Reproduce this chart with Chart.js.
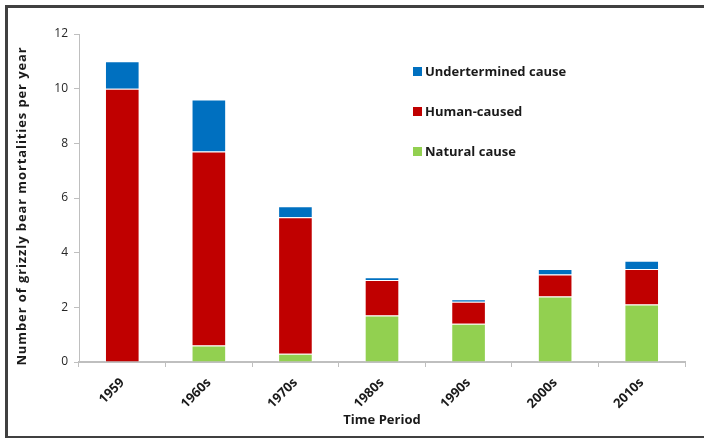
<!DOCTYPE html>
<html>
<head>
<meta charset="utf-8">
<script src="https://cdn.jsdelivr.net/npm/chart.js@4/dist/chart.umd.min.js"></script>
<style>
  body { margin: 0; background: #fff; }
  #wrap { position: relative; width: 704px; height: 438px; overflow: hidden; }
  #frame { position: absolute; left: 5px; top: 5px; width: 720px; height: 428px; border: 3px solid #404040; box-sizing: content-box; pointer-events: none; }
</style>
</head>
<body>
<div id="wrap">
  <canvas id="bearChart" width="704" height="438"></canvas>
  <div id="frame"></div>
</div>
<script>
var periods = ["1959", "1960s", "1970s", "1980s", "1990s", "2000s", "2010s"];
var naturalCause = [0, 0.6, 0.3, 1.7, 1.4, 2.4, 2.1];
var humanCaused = [10, 7.1, 5.0, 1.3, 0.8, 0.8, 1.3];
var undeterminedCause = [1.0, 1.9, 0.4, 0.1, 0.1, 0.2, 0.3];
var yTicks = [0, 2, 4, 6, 8, 10, 12];
var yTitle = "Number of grizzly bear mortalities per year";

var fontFamily = "'Open Sans', 'DejaVu Sans', sans-serif";

// legend drawn inside the plot area, top item first
var legendInside = {
    id: "legendInside",
    afterDraw: function (chart) {
        var ctx = chart.ctx;
        var area = chart.chartArea;
        var sets = chart.data.datasets.slice().reverse();
        ctx.save();
        ctx.font = "bold 13px " + fontFamily;
        ctx.textBaseline = "middle";
        sets.forEach(function (ds, i) {
            var y = area.top + 37 + i * 40;
            var x = area.left + 334;
            ctx.fillStyle = ds.backgroundColor;
            ctx.fillRect(x, y - 4, 9, 9);
            ctx.fillStyle = "#1a1a1a";
            ctx.fillText(ds.label, x + 12, y + 1);
        });
        ctx.restore();
    }
};

// y title with letter spacing, like the original
var spacedYTitle = {
    id: "spacedYTitle",
    afterDraw: function (chart) {
        var ctx = chart.ctx;
        var area = chart.chartArea;
        ctx.save();
        ctx.translate(22, (area.top + area.bottom) / 2 + 8);
        ctx.rotate(-Math.PI / 2);
        ctx.font = "bold 13px " + fontFamily;
        ctx.letterSpacing = "0.9px";
        ctx.fillStyle = "#1a1a1a";
        ctx.textAlign = "center";
        ctx.textBaseline = "middle";
        ctx.fillText(yTitle, 0, 0);
        ctx.restore();
    }
};

var ctx = document.getElementById("bearChart").getContext("2d");
var bearChart = new Chart(ctx, {
    type: "bar",
    data: {
        labels: periods,
        datasets: [
            {
                label: "Natural cause",
                data: naturalCause,
                backgroundColor: "#92D050",
                borderColor: "rgba(255,255,255,0.6)",
                borderWidth: 1
            },
            {
                label: "Human-caused",
                data: humanCaused,
                backgroundColor: "#C00000",
                borderColor: "rgba(255,255,255,0.6)",
                borderWidth: 1
            },
            {
                label: "Undertermined cause",
                data: undeterminedCause,
                backgroundColor: "#0070C0",
                borderColor: "rgba(255,255,255,0.6)",
                borderWidth: 1
            }
        ]
    },
    options: {
        responsive: false,
        animation: false,
        barPercentage: 0.4,
        categoryPercentage: 1,
        layout: {
            padding: { left: 8, right: 19, top: 34, bottom: 10 }
        },
        plugins: {
            legend: { display: false },
            tooltip: { enabled: false }
        },
        scales: {
            x: {
                stacked: true,
                grid: {
                    offset: true,
                    drawOnChartArea: false,
                    color: "#bfbfbf",
                    tickLength: 5
                },
                border: { color: "#bfbfbf", width: 2 },
                ticks: {
                    maxRotation: 45,
                    minRotation: 45,
                    color: "#1a1a1a",
                    font: { family: fontFamily, size: 13, weight: "bold" },
                    padding: 8
                },
                title: {
                    display: true,
                    text: "Time Period",
                    color: "#1a1a1a",
                    font: { family: fontFamily, size: 13, weight: "bold" },
                    padding: { top: 0, bottom: 0 }
                },
                afterFit: function (scale) { scale.height = 66; }
            },
            y: {
                stacked: true,
                min: 0,
                max: 12,
                afterBuildTicks: function (scale) {
                    scale.ticks = yTicks.map(function (v) { return { value: v }; });
                },
                grid: {
                    drawOnChartArea: false,
                    color: "#bfbfbf",
                    tickLength: 5
                },
                border: { color: "#bfbfbf", width: 1 },
                ticks: {
                    color: "#262626",
                    font: { family: fontFamily, size: 12 },
                    padding: 6
                },
                afterFit: function (scale) { scale.width = 71; }
            }
        }
    },
    plugins: [legendInside, spacedYTitle]
});
</script>
</body>
</html>
